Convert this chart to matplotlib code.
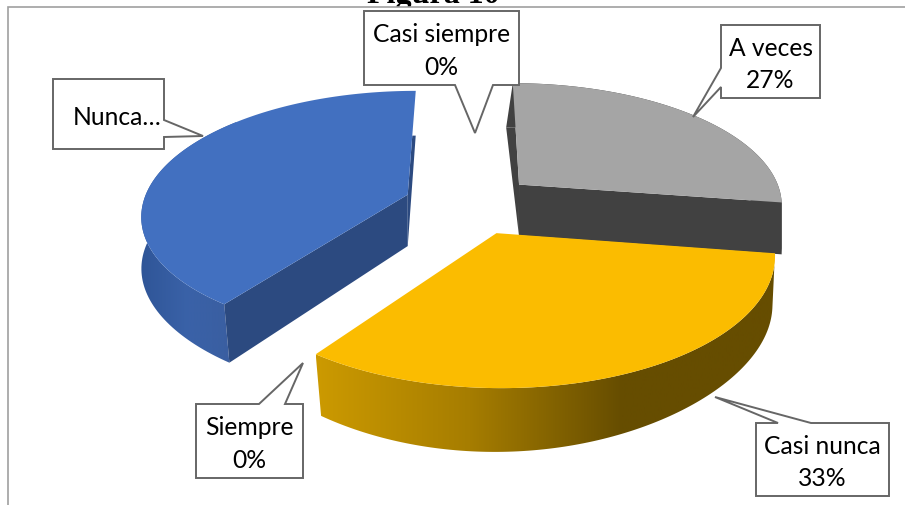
import numpy as np
import matplotlib
matplotlib.use("Agg")
import matplotlib.pyplot as plt
from matplotlib.colors import LinearSegmentedColormap
from matplotlib.patches import Polygon, Rectangle

# clockwise from 12 o'clock
categories = ["A veces", "Casi nunca", "Siempre", "Nunca", "Casi siempre"]
values = [27.4, 32.6, 0, 40, 0]
shown_labels = ["A veces\n27%", "Casi nunca\n33%", "Siempre\n0%", "Nunca…", "Casi siempre\n0%"]

# fake 3d: flat disc seen through a perspective
CX, CY = 470, 205
RX, RY = 265, 122
PERSP = 0.15
DEPTH = 52
EXPLODE = 0.25
VANISH_X = 415

top_colors = {"A veces": "#a5a5a5", "Casi nunca": "#fbbc00", "Nunca": "#4270c0"}
cut_colors = {"A veces": "#414141", "Nunca": "#2c4a80"}  # yellow cuts face away
side_stops = {
    "A veces": ["#414141", "#414141"],
    "Casi nunca": ["#cc9a00", "#a67d00", "#664d00", "#664d00"],
    "Nunca": ["#2f5597", "#3a62a8", "#3a5ea0"],
}
side_extent = {"A veces": (500, 790), "Casi nunca": (316, 775), "Nunca": (140, 235)}

# box left, top, right, bottom, then the pointer: base a, tip, base b
callouts = {
    "A veces": ((721, 26, 820, 99), (721, 69), (693, 118), (721, 88)),
    "Casi nunca": ((756, 424, 889, 497), (778, 424), (715, 398), (811, 424)),
    "Siempre": ((196, 405, 303, 479), (259, 405), (303, 364), (285, 405)),
    "Nunca": ((53, 80, 164, 150), (164, 121), (203, 137), (164, 138)),
    "Casi siempre": ((364, 12, 519, 86), (455, 86), (475, 134), (493, 86)),
}
label_shift = {"Nunca": (9, 2)}


def project(u, v):
    d = 1 + PERSP * v
    return CX + RX * u / d, CY - RY * v / d


def lower(u, v):
    # same disc point on the underside of the pie
    x, y = project(u, v)
    f = 1 - 0.05 * v ** 2
    return VANISH_X + (x - VANISH_X) * f, y + DEPTH / (1 + PERSP * v)


def slice_uv(start, end):
    mid = (start + end) / 2
    ou, ov = EXPLODE * np.sin(mid), EXPLODE * np.cos(mid)
    t = np.linspace(start, end, 120)
    return ou, ov, ou + np.sin(t), ov + np.cos(t)


def draw_slice(ax, name, start, end):
    ou, ov, us, vs = slice_uv(start, end)
    tx, ty = project(us, vs)
    bx, by = lower(us, vs)
    ax_, ay_ = project(ou, ov)
    bax, bay = lower(ou, ov)

    # outer wall with the horizontal gradient
    wall = np.column_stack([np.r_[tx, bx[::-1]], np.r_[ty, by[::-1]]])
    patch = Polygon(wall, closed=True, fc="none", ec="none", zorder=2)
    ax.add_patch(patch)
    cmap = LinearSegmentedColormap.from_list(name, side_stops[name])
    x0, x1 = side_extent[name]
    im = ax.imshow(np.linspace(0, 1, 256)[None, :], cmap=cmap, aspect="auto",
                   extent=(x0, x1, 506, 0), zorder=2)
    im.set_clip_path(patch)

    # the two cut faces
    if name in cut_colors:
        for i in (0, -1):
            ex, ey = tx[i], ty[i]
            if vs[i] > 0.5:
                # back edge: only the part that shows below the rim
                k = (by[i] - ay_) / (ty[i] - ay_)
                ex, ey = ax_ + (tx[i] - ax_) * k, by[i]
            quad = [(ax_, ay_), (ex, ey), (bx[i], by[i]), (bax, bay)]
            ax.add_patch(Polygon(quad, closed=True, fc=cut_colors[name], ec="none", zorder=2))

    # top surface
    top = np.column_stack([np.r_[ax_, tx], np.r_[ay_, ty]])
    ax.add_patch(Polygon(top, closed=True, fc=top_colors[name], ec="none", zorder=2))


def draw_callout(ax, name, label):
    (l, t, r, b), p0, tip, p1 = callouts[name]
    if p0[1] == t:
        pts = [(l, t), p0, tip, p1, (r, t), (r, b), (l, b)]
    elif p0[1] == b:
        pts = [(l, t), (r, t), (r, b), p1, tip, p0, (l, b)]
    elif p0[0] == r:
        pts = [(l, t), (r, t), p0, tip, p1, (r, b), (l, b)]
    else:
        pts = [(l, t), (r, t), (r, b), (l, b), p1, tip, p0]
    ax.add_patch(Polygon(pts, closed=True, fc="white", ec="#666666", lw=1.4, zorder=5))
    dx, dy = label_shift.get(name, (0, 2))
    ax.text((l + r) / 2 + dx, (t + b) / 2 + dy, label, ha="center", va="center", family="Lato",
            fontsize=17.7, color="black", linespacing=1.52, zorder=6)


fig = plt.figure(figsize=(9.05, 5.06), dpi=100)
ax = fig.add_axes([0, 0, 1, 1])

# slice angles from the values
total = sum(values)
angles = 2 * np.pi * np.cumsum([0] + values) / total
spans = {c: (angles[i], angles[i + 1]) for i, c in enumerate(categories)}

# title is cut off by the chart picture pasted over it
ax.text(433, 2.5, "Figura 10", ha="center", va="baseline", family="Liberation Serif",
        fontweight="bold", fontsize=23, zorder=1)
ax.add_patch(Rectangle((7.5, 8), 920, 520, fc="white", ec="#a0a0a0", lw=1.2, zorder=1.5))

for name in ["A veces", "Nunca", "Casi nunca"]:
    draw_slice(ax, name, *spans[name])

for name, label in zip(categories, shown_labels):
    draw_callout(ax, name, label)

ax.set_xlim(0, 905)
ax.set_ylim(506, 0)
ax.axis("off")

fig.savefig("out.png", dpi=100)
